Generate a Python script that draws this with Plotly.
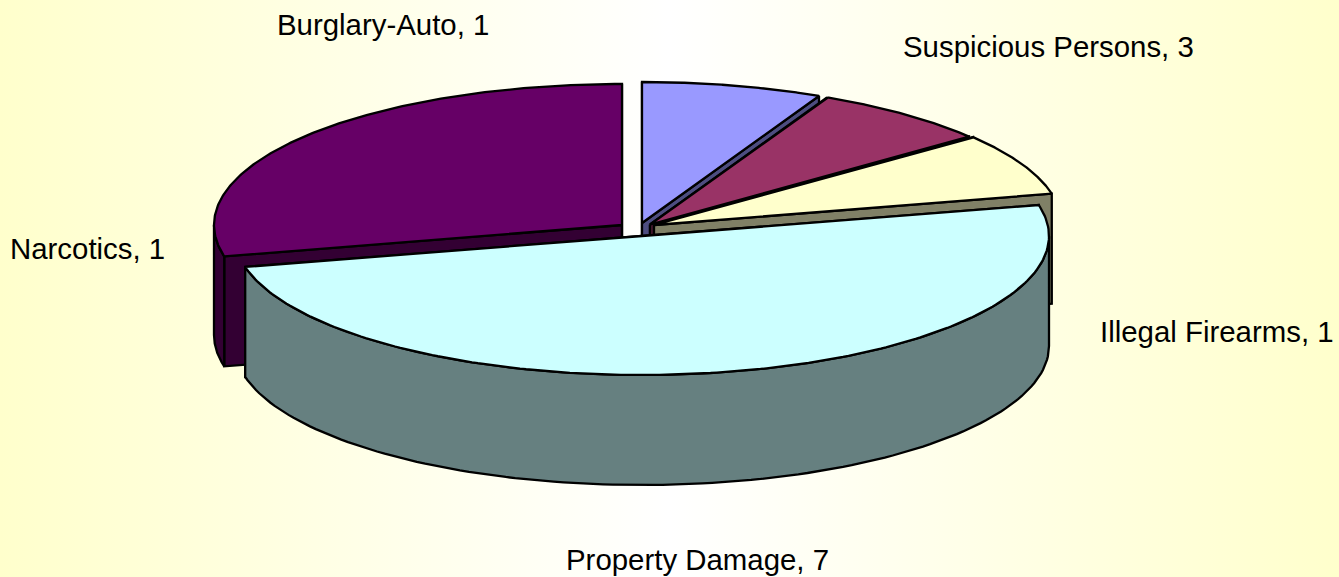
import base64
import numpy as np
import plotly.graph_objects as go

# Data
slice_names = ["Slice A", "Slice B", "Slice C", "Property Damage", "Slice E"]
slice_values = [1, 1, 1, 7, 4]
label_names = ["Burglary-Auto", "Suspicious Persons", "Illegal Firearms", "Property Damage", "Narcotics"]
label_values = [1, 3, 1, 7, 1]

# Styles and layout
top_colors = ["#9999FF", "#993366", "#FFFFCC", "#CCFFFF", "#660066"]
side_colors = ["#4D4D80", "#4D1A33", "#808066", "#668080", "#330033"]
centers = [(642, 223), (650, 224.5), (654, 225), (642, 236), (622, 225)]
radii = [(408, 141), (408, 141), (408, 141), (407, 139), (408, 141)]
depth = 110
draw_order = [4, 0, 1, 2, 3]
label_xy = [(383, 24), (1048, 46), (1217, 331), (697, 559), (87, 248)]

fracs = np.array(slice_values, dtype=float) / sum(slice_values)
edges = np.concatenate([[0], np.cumsum(fracs)]) * 2 * np.pi


def pt(c, r, t, dz=0.0):
    return c[0] + r[0] * np.sin(t), c[1] - r[1] * np.cos(t) + dz


def poly(xs, ys, color):
    return go.Scatter(x=list(xs), y=list(ys), mode="lines", fill="toself", fillcolor=color,
                      line=dict(color="black", width=2.3, shape="linear"), hoverinfo="skip", showlegend=False)


fig = go.Figure()
for i in draw_order:
    c, r = centers[i], radii[i]
    t0, t1 = edges[i], edges[i + 1]
    # radial walls
    for t in (t0, t1):
        ex, ey = pt(c, r, t)
        fig.add_trace(poly([c[0], ex, ex, c[0], c[0]], [c[1], ey, ey + depth, c[1] + depth, c[1]], side_colors[i]))
    # outer rim (front half only)
    lo, hi = max(t0, np.pi / 2), min(t1, 3 * np.pi / 2)
    if lo < hi:
        ts = np.linspace(lo, hi, 120)
        xs, ys = pt(c, r, ts)
        fig.add_trace(poly(np.concatenate([xs, xs[::-1], xs[:1]]),
                           np.concatenate([ys, ys[::-1] + depth, ys[:1]]), side_colors[i]))
    # top face
    ts = np.linspace(t0, t1, 200)
    xs, ys = pt(c, r, ts)
    fig.add_trace(poly(np.concatenate([[c[0]], xs, [c[0]]]), np.concatenate([[c[1]], ys, [c[1]]]), top_colors[i]))

svg = ('<svg xmlns="http://www.w3.org/2000/svg" width="1339" height="577" preserveAspectRatio="none">'
       '<defs><linearGradient id="g" x1="0" y1="0" x2="1" y2="0">'
       '<stop offset="0" stop-color="#FFFFCC"/><stop offset="0.5" stop-color="#FFFFFF"/>'
       '<stop offset="1" stop-color="#FFFFCC"/></linearGradient></defs>'
       '<rect width="1339" height="577" fill="url(#g)"/></svg>')
bg = "data:image/svg+xml;base64," + base64.b64encode(svg.encode()).decode()

fig.update_layout(
    width=1339, height=577, margin=dict(l=0, r=0, t=0, b=0), showlegend=False,
    paper_bgcolor="#FFFFE6", plot_bgcolor="rgba(0,0,0,0)",
    xaxis=dict(range=[0, 1339], visible=False, fixedrange=True),
    yaxis=dict(range=[577, 0], visible=False, fixedrange=True),
    images=[dict(source=bg, xref="paper", yref="paper", x=0, y=1, sizex=1, sizey=1,
                 sizing="stretch", xanchor="left", yanchor="top", layer="below")],
)
for n, v, (x, y) in zip(label_names, label_values, label_xy):
    fig.add_annotation(x=x, y=y, text=f"{n}, {v}", showarrow=False, xanchor="center", yanchor="middle",
                       font=dict(family="Liberation Sans", size=29.4, color="black"))

fig.write_html("out.html", config={"displayModeBar": False},
               post_script="document.body.style.margin='0';document.body.style.overflow='hidden';")
